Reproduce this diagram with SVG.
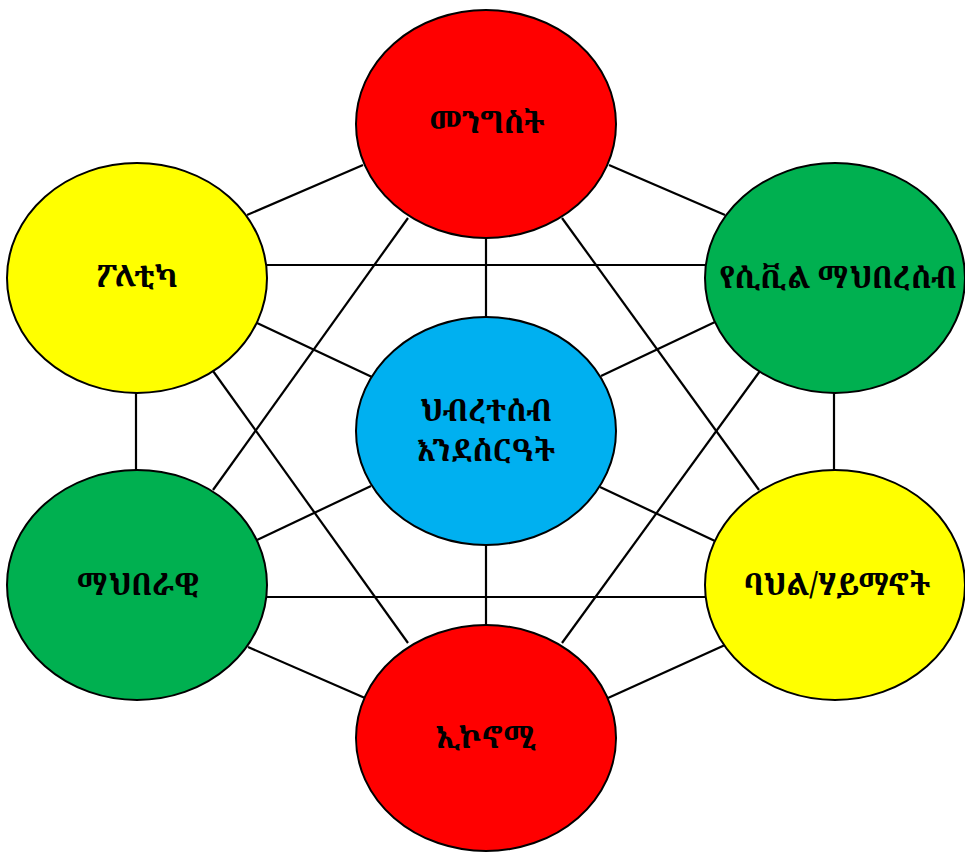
<svg xmlns="http://www.w3.org/2000/svg" width="965" height="852" viewBox="0 0 965 852">
<style>
.c{stroke:#000;stroke-width:2}
.red{fill:#FF0000}.yel{fill:#FFFF00}.grn{fill:#00B050}.blu{fill:#00B0F0}
.t{font-family:"Noto Serif Ethiopic","Abyssinica SIL","Noto Sans Ethiopic","Noto Sans",serif;font-size:30px;font-weight:bold;fill:#000;text-anchor:middle}
#connectors line{stroke:#000;stroke-width:2.2}
</style>
<rect width="965" height="852" fill="#fff"/>
<g id="connectors">
<line x1="247" y1="215" x2="363" y2="165"/>
<line x1="725" y1="215" x2="609" y2="165"/>
<line x1="486" y1="237" x2="486" y2="317"/>
<line x1="408" y1="218" x2="213" y2="490"/>
<line x1="562" y1="218" x2="759" y2="490"/>
<line x1="265" y1="265" x2="707" y2="265"/>
<line x1="257" y1="323" x2="372" y2="377"/>
<line x1="136" y1="392" x2="136" y2="471"/>
<line x1="213" y1="371" x2="408" y2="643"/>
<line x1="715" y1="322" x2="601" y2="376"/>
<line x1="834" y1="392" x2="834" y2="471"/>
<line x1="760" y1="371" x2="562" y2="643"/>
<line x1="257" y1="540" x2="371" y2="486"/>
<line x1="266" y1="597" x2="706" y2="597"/>
<line x1="248" y1="647" x2="365" y2="698"/>
<line x1="600" y1="487" x2="715" y2="541"/>
<line x1="725" y1="645" x2="608" y2="698"/>
<line x1="486" y1="546" x2="486" y2="625"/>
</g>
<g id="n-mengist">
<ellipse class="c red" cx="486" cy="124" rx="130" ry="114"/>
<text class="t" x="487" y="133">መንግስት</text>
</g>
<g id="n-politika">
<ellipse class="c yel" cx="137" cy="278" rx="130" ry="115"/>
<text class="t" x="137" y="287">ፖለቲካ</text>
</g>
<g id="n-civil">
<ellipse class="c grn" cx="835" cy="278" rx="130" ry="115"/>
<text class="t" x="838" y="288">የሲቪል ማህበረሰብ</text>
</g>
<g id="n-center">
<ellipse class="c blu" cx="486" cy="431" rx="130" ry="114"/>
<text class="t" x="486" y="421">ህብረተሰብ</text>
<text class="t" x="486" y="461">እንደስርዓት</text>
</g>
<g id="n-mahberawi">
<ellipse class="c grn" cx="137" cy="585" rx="130" ry="115"/>
<text class="t" x="138" y="595">ማህበራዊ</text>
</g>
<g id="n-bahil">
<ellipse class="c yel" cx="835" cy="585" rx="130" ry="115"/>
<text class="t" x="837" y="595">ባህል/ሃይማኖት</text>
</g>
<g id="n-economy">
<ellipse class="c red" cx="486" cy="738" rx="130" ry="113"/>
<text class="t" x="486" y="748">ኢኮኖሚ</text>
</g>
</svg>
